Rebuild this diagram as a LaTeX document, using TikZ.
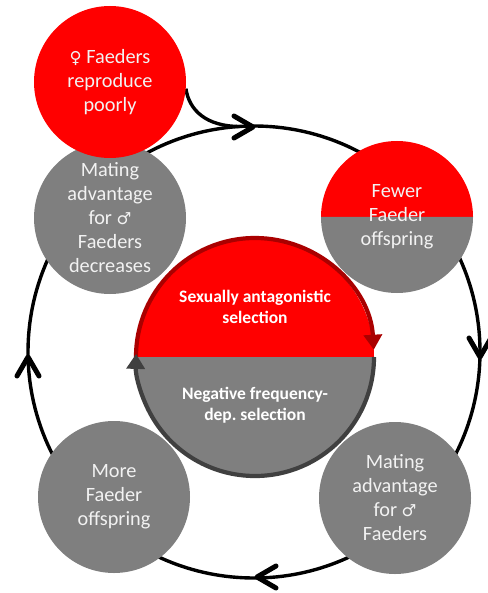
\documentclass[tikz,border=0pt]{standalone}
\usepackage{fontspec}
\setmainfont{Carlito}
\newfontfamily\symf{DejaVu Sans}
\usetikzlibrary{arrows.meta,backgrounds}
\definecolor{cred}{RGB}{255,0,0}
\definecolor{cgray}{RGB}{127,127,127}
\definecolor{ctext}{RGB}{242,242,242}
\definecolor{cdred}{RGB}{170,0,0}
\definecolor{cdgray}{RGB}{64,64,64}
\newcommand{\msym}[1]{{\symf\fontsize{16.5}{24}\selectfont #1}}
\frenchspacing
\begin{document}
\begin{tikzpicture}[x=1pt,y=-1pt,
  blob/.style={circle, minimum size=152pt, inner sep=0pt, align=center, text=ctext, font=\fontsize{20.3}{24}\selectfont},
  cyc/.style={line width=3.4pt, draw=black},
  chev/.style={line width=5pt, line cap=round, line join=round, draw=black},
  seltext/.style={align=center, text=white, font=\fontsize{17.5}{21}\selectfont\bfseries},
  rim/.style={line width=4.2pt, -{Triangle[length=15pt,width=18pt]}}]
\useasboundingbox (0,0) rectangle (487,593);

% outer cycle
\coordinate (cc) at (254,352);
\coordinate (join) at (240,126.5);

% circles
\node[blob, fill=cgray] (ul) at (110,218) {Mating\\advantage\\for \msym{♂}\\Faeders\\decreases};
\node[blob, fill=cred] (fem) at (110,82) {\msym{♀} Faeders\\reproduce\\poorly};

\coordinate (urc) at (397,217);
\fill[cred] (urc) ++(-76,0) arc[start angle=180,end angle=360,radius=76] -- cycle;
\fill[cgray] (urc) ++(76,0) arc[start angle=0,end angle=180,radius=76] -- cycle;
\node[blob] (ur) at (urc) {Fewer\\Faeder\\offspring};

\node[blob, fill=cgray] (lr) at (395,498) {Mating\\advantage\\for \msym{♂}\\Faeders};
\node[blob, fill=cgray] (ll) at (114,497) {More\\Faeder\\offspring};

\begin{scope}[on background layer]
  \draw[cyc] (cc) circle[radius=226];
  \draw[cyc] (fem.-5) .. controls (189,110) and (206,126.5) .. (join);
\end{scope}

% arrow chevrons on the cycle
\draw[chev] (234,116) -- (253,127) -- (234,138);
\draw[chev] (469,338) -- (480,357) -- (491,338);
\draw[chev] (276,566) -- (257,577) -- (276,588);
\draw[chev] (17,376) -- (28,357) -- (39,376);

% centre circle
\coordinate (sc) at (255,357);
\fill[cred] (sc) ++(-119,0) arc[start angle=180,end angle=360,radius=119] -- cycle;
\fill[cgray] (sc) ++(119,0) arc[start angle=0,end angle=180,radius=119] -- cycle;
\draw[rim, cdred] (sc) ++(-119,0) arc[start angle=180,end angle=356.5,radius=119];
\draw[rim, cdgray] (sc) ++(119,0) arc[start angle=0,end angle=181.5,radius=119];
\node[circle, minimum size=238pt, inner sep=0pt] (sel) at (sc) {};
\node[seltext] (sat) at (255,307) {Sexually antagonistic\\selection};
\node[seltext] (nfd) at (255,405) {Negative frequency-\\dep. selection};
\end{tikzpicture}
\end{document}
